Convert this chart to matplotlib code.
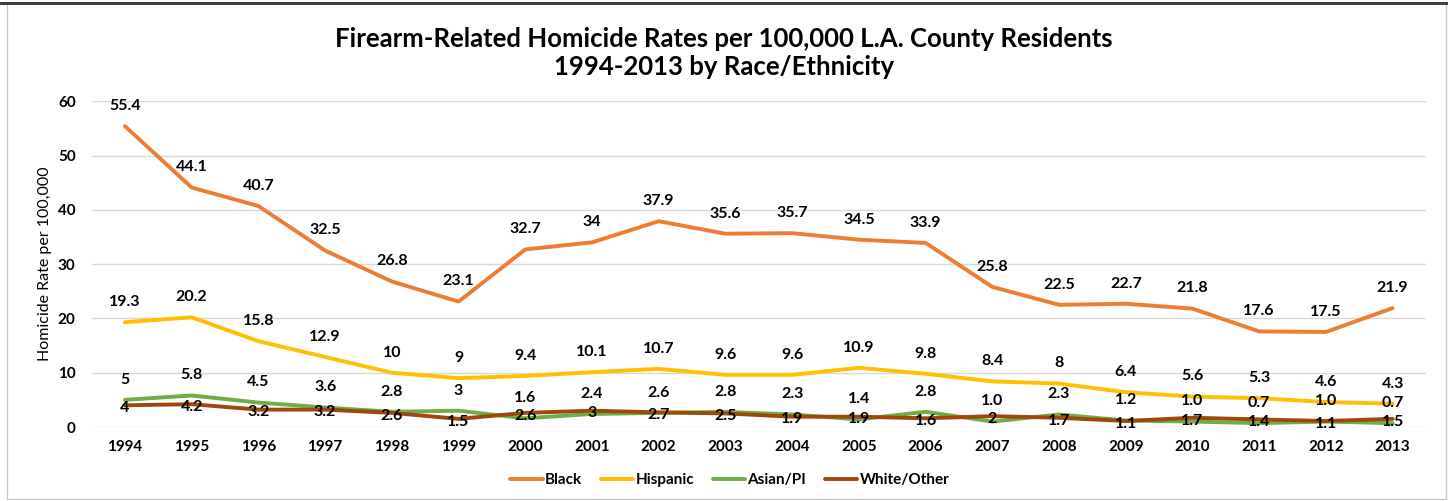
import matplotlib
matplotlib.use("Agg")
import matplotlib.pyplot as plt
from matplotlib.patches import Rectangle

years = [str(y) for y in range(1994, 2014)]
black = [55.4, 44.1, 40.7, 32.5, 26.8, 23.1, 32.7, 34, 37.9, 35.6, 35.7, 34.5, 33.9, 25.8, 22.5, 22.7, 21.8, 17.6, 17.5, 21.9]
hispanic = [19.3, 20.2, 15.8, 12.9, 10, 9, 9.4, 10.1, 10.7, 9.6, 9.6, 10.9, 9.8, 8.4, 8, 6.4, 5.6, 5.3, 4.6, 4.3]
asian = [5, 5.8, 4.5, 3.6, 2.8, 3, 1.6, 2.4, 2.6, 2.8, 2.3, 1.4, 2.8, 1.0, 2.3, 1.2, 1.0, 0.7, 1.0, 0.7]
white = [4, 4.2, 3.2, 3.2, 2.6, 1.5, 2.6, 3, 2.7, 2.5, 1.9, 1.9, 1.6, 2, 1.7, 1.1, 1.7, 1.4, 1.1, 1.5]

black_lbl = ["55.4", "44.1", "40.7", "32.5", "26.8", "23.1", "32.7", "34", "37.9", "35.6", "35.7", "34.5", "33.9", "25.8", "22.5", "22.7", "21.8", "17.6", "17.5", "21.9"]
hisp_lbl = ["19.3", "20.2", "15.8", "12.9", "10", "9", "9.4", "10.1", "10.7", "9.6", "9.6", "10.9", "9.8", "8.4", "8", "6.4", "5.6", "5.3", "4.6", "4.3"]
asian_lbl = ["5", "5.8", "4.5", "3.6", "2.8", "3", "1.6", "2.4", "2.6", "2.8", "2.3", "1.4", "2.8", "1.0", "2.3", "1.2", "1.0", "0.7", "1.0", "0.7"]
white_lbl = ["4", "4.2", "3.2", "3.2", "2.6", "1.5", "2.6", "3", "2.7", "2.5", "1.9", "1.9", "1.6", "2", "1.7", "1.1", "1.7", "1.4", "1.1", "1.5"]

series = [
    ("Black", black, black_lbl, "#ED7D31", 14.5),
    ("Hispanic", hispanic, hisp_lbl, "#FFC000", 14.5),
    ("Asian/PI", asian, asian_lbl, "#70AD47", 14.5),
    ("White/Other", white, white_lbl, "#9E480E", -2),
]

plt.rcParams['font.family'] = ['Lato', 'DejaVu Sans']

fig = plt.figure(figsize=(14.48, 5.01), dpi=100)
fig.patches.append(Rectangle((7 / 1448, 0.004), (1446 - 7) / 1448, 0.99, transform=fig.transFigure,
                             fill=False, edgecolor="#C8C8C8", linewidth=1.0))
fig.patches.append(Rectangle((0.0, 0.99), 1.0, 0.006, transform=fig.transFigure,
                             fill=True, color="#404040", linewidth=0))

ax = fig.add_axes([91.6 / 1448, 0.1477, (1426 - 91.6) / 1448, 0.6503])
x = list(range(len(years)))
for name, vals, lbls, col, off in series:
    ax.plot(x, vals, color=col, linewidth=2.8, label=name, solid_capstyle='round')
for name, vals, lbls, col, off in series:
    for xi, v, t in zip(x, vals, lbls):
        ax.annotate(t, (xi, v), xytext=(0, off), textcoords="offset points",
                    ha="center", va="center", fontsize=11.5, fontweight="bold", color="#000000")

ax.set_xlim(-0.5, len(years) - 0.5)
ax.set_ylim(0, 60)
ax.set_yticks(range(0, 61, 10))
ax.set_xticks(x)
ax.set_xticklabels(years)
ax.tick_params(axis="both", length=0, labelsize=11)
for lab in ax.get_xticklabels() + ax.get_yticklabels():
    lab.set_fontweight("bold")
ax.tick_params(axis="x", pad=9)
ax.tick_params(axis="y", pad=11.5)
ax.grid(axis="y", color="#D9D9D9", linewidth=1)
ax.set_axisbelow(True)
for s in ax.spines.values():
    s.set_visible(False)
ax.set_ylabel("Homicide Rate per 100,000", fontsize=11.5, labelpad=4)

fig.text(0.5, 0.894, "Firearm-Related Homicide Rates per 100,000 L.A. County Residents\n1994-2013 by Race/Ethnicity",
         ha="center", va="center", fontsize=18.5, fontweight="bold", linespacing=1.2)

leg = fig.legend(loc="center", bbox_to_anchor=(730 / 1448, 0.042), ncol=4, frameon=False,
                 fontsize=11, handlelength=2.1, columnspacing=1.25, handletextpad=0.15)
for t in leg.get_texts():
    t.set_fontweight("bold")

fig.savefig("out.png", dpi=100)
